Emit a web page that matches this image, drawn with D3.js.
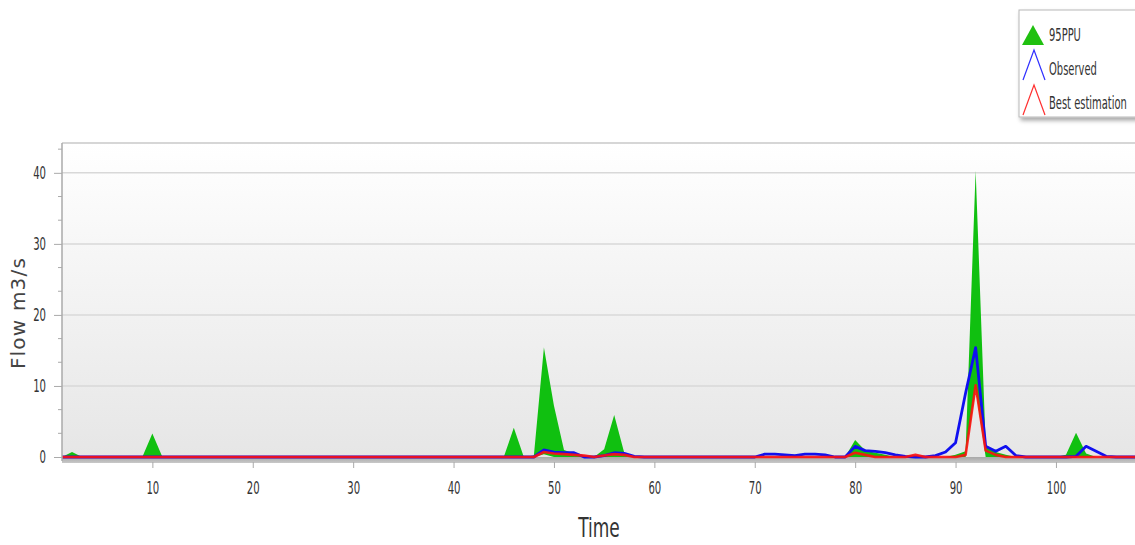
<!DOCTYPE html>
<html>
<head>
<meta charset="utf-8">
<script src="https://cdn.jsdelivr.net/npm/d3@7"></script>
<style>
  body { margin: 0; background: #fff; }
  svg { display: block; }
  .narrow { font-family: "Liberation Sans Narrow", "Arial Narrow", "DejaVu Sans Condensed", "Liberation Sans", sans-serif; }
</style>
</head>
<body>
<script>
// time steps 1..108
const time = d3.range(1, 109);

// sparse values, everything else is 0
const ppuUpperPts = {2: 0.7, 10: 3.3, 46: 4.1, 48: 0.2, 49: 15.4, 50: 7.2, 51: 1.0, 52: 0.5,
  55: 1.1, 56: 5.9, 57: 0.6, 80: 2.4, 81: 0.9, 82: 0.6, 83: 0.3, 90: 0.3, 91: 0.8, 92: 40.3,
  93: 1.7, 94: 0.7, 95: 0.3, 101: 0.3, 102: 3.4, 103: 0.5};
const ppuLowerPts = {49: 0.4, 92: 9.6};
const observedPts = {49: 1.0, 50: 0.7, 51: 0.6, 52: 0.6, 55: 0.2, 56: 0.6, 57: 0.5, 58: 0.1,
  71: 0.4, 72: 0.4, 73: 0.3, 74: 0.2, 75: 0.4, 76: 0.4, 77: 0.3,
  80: 1.5, 81: 0.9, 82: 0.8, 83: 0.6, 84: 0.3, 85: 0.1,
  88: 0.2, 89: 0.7, 90: 2.0, 91: 9.0, 92: 15.4, 93: 1.5, 94: 0.8, 95: 1.5, 96: 0.2,
  102: 0.1, 103: 1.5, 104: 0.8, 105: 0.1};
const bestPts = {49: 0.7, 50: 0.5, 51: 0.4, 52: 0.3, 53: 0.2, 55: 0.2, 56: 0.4, 57: 0.3,
  80: 0.6, 81: 0.3, 86: 0.3, 91: 0.3, 92: 10.1, 93: 0.9, 94: 0.3};

const ppuUpper = time.map(t => ppuUpperPts[t] || 0);
const ppuLower = time.map(t => ppuLowerPts[t] || 0);
const observed = time.map(t => observedPts[t] || 0);
const best = time.map(t => bestPts[t] || 0);

const yTicks = [0, 10, 20, 30, 40];
const xTicks = [10, 20, 30, 40, 50, 60, 70, 80, 90, 100];
const legendNames = ['95PPU', 'Observed', 'Best estimation'];

const W = 1135, H = 545;
const margin = {top: 143, left: 62, bottom: 88};

const svg = d3.select('body').append('svg').attr('width', W).attr('height', H);

const xscale = d3.scaleLinear().domain([1, 108]).range([margin.left, margin.left + 107 * 10.04]);
const yscale = d3.scaleLinear().domain([0, 44.2]).range([457, margin.top]);

// squeeze text horizontally (condensed look)
const squeeze = (sel, k) => sel.each(function() {
  const w = this.getComputedTextLength();
  d3.select(this).attr('textLength', w * k).attr('lengthAdjust', 'spacingAndGlyphs');
});

// plot background gradient
const defs = svg.append('defs');
const grad = defs.append('linearGradient').attr('id', 'bg').attr('x1', 0).attr('x2', 0).attr('y1', 0).attr('y2', 1);
grad.append('stop').attr('offset', '0%').attr('stop-color', '#ffffff');
grad.append('stop').attr('offset', '100%').attr('stop-color', '#e6e6e6');
const floor = defs.append('linearGradient').attr('id', 'floor').attr('x1', 0).attr('x2', 0).attr('y1', 0).attr('y2', 1);
floor.append('stop').attr('offset', '0%').attr('stop-color', '#a8a8a8');
floor.append('stop').attr('offset', '100%').attr('stop-color', '#c8c8c8');
const shadow = defs.append('filter').attr('id', 'shadow').attr('x', -0.1).attr('y', -0.1).attr('width', 1.3).attr('height', 1.3);
shadow.append('feDropShadow').attr('dx', 2).attr('dy', 3).attr('stdDeviation', 2).attr('flood-color', '#000').attr('flood-opacity', 0.35);

svg.append('rect')
  .attr('x', margin.left).attr('y', margin.top)
  .attr('width', W - margin.left + 5).attr('height', 457 - margin.top)
  .attr('fill', 'url(#bg)');

// gridlines
svg.append('g').selectAll('line').data(yTicks.filter(d => d > 0)).join('line')
  .attr('x1', margin.left).attr('x2', W)
  .attr('y1', d => yscale(d)).attr('y2', d => yscale(d))
  .attr('stroke', '#d8d8d8').attr('stroke-width', 1.5);

// top border
svg.append('line').attr('x1', margin.left).attr('x2', W)
  .attr('y1', margin.top).attr('y2', margin.top)
  .attr('stroke', '#c8c8c8').attr('stroke-width', 1.5);

// floor band
svg.append('rect').attr('x', margin.left).attr('y', 457).attr('width', W - margin.left).attr('height', 6)
  .attr('fill', 'url(#floor)');

// 95PPU band
const area = d3.area()
  .x((d, i) => xscale(time[i]))
  .y0((d, i) => yscale(ppuLower[i]))
  .y1(d => yscale(d));
svg.append('path').datum(ppuUpper).attr('d', area).attr('fill', '#10c010');

const line = d3.line().x((d, i) => xscale(time[i])).y(d => yscale(d));
svg.append('path').datum(observed).attr('d', line)
  .attr('fill', 'none').attr('stroke', '#1010f0').attr('stroke-width', 2.8).attr('stroke-linejoin', 'round');
svg.append('path').datum(best).attr('d', line)
  .attr('fill', 'none').attr('stroke', '#ff1010').attr('stroke-width', 2.6).attr('stroke-opacity', 0.9)
  .attr('stroke-linejoin', 'round');

// left axis
const yaxis = d3.axisLeft(yscale).tickValues(yTicks).tickSize(8).tickPadding(8);
const gy = svg.append('g').attr('transform', `translate(${margin.left},0)`).call(yaxis);
gy.select('.domain').remove();
svg.append('line').attr('x1', margin.left).attr('x2', margin.left).attr('y1', margin.top).attr('y2', 461)
  .attr('stroke', '#aaa').attr('stroke-width', 1.5);
// minor ticks
const minor = d3.range(0, 44.2, 10 / 3).filter(v => Math.abs(v - Math.round(v / 10) * 10) > 0.1);
svg.append('g').selectAll('line').data(minor).join('line')
  .attr('x1', margin.left - 4).attr('x2', margin.left)
  .attr('y1', d => yscale(d)).attr('y2', d => yscale(d))
  .attr('stroke', '#aaa');
gy.selectAll('.tick line').attr('stroke', '#aaa').attr('x1', -8).attr('x2', 0);
gy.selectAll('.tick text').attr('class', 'narrow').attr('font-size', 17).attr('fill', '#333')
  .call(squeeze, 0.66);

// bottom axis
const xaxis = d3.axisBottom(xscale).tickValues(xTicks).tickSize(6).tickPadding(14);
const gx = svg.append('g').attr('transform', 'translate(0,462)').call(xaxis);
gx.select('.domain').remove();
gx.selectAll('.tick line').attr('stroke', '#aaa');
gx.selectAll('.tick text').attr('class', 'narrow').attr('font-size', 17).attr('fill', '#333')
  .call(squeeze, 0.66);

// axis titles
svg.append('text').attr('class', 'narrow').attr('x', 599).attr('y', 537)
  .attr('text-anchor', 'middle').attr('font-size', 27).attr('fill', '#333').text('Time')
  .call(squeeze, 0.7);
svg.append('text').attr('transform', 'translate(25,313) rotate(-90)')
  .attr('text-anchor', 'middle').attr('font-family', 'Verdana, "DejaVu Sans", sans-serif')
  .attr('font-size', 20).attr('letter-spacing', 1.2).attr('fill', '#444').text('Flow m3/s');

// legend
const lg = svg.append('g');
lg.append('rect').attr('x', 1019).attr('y', 10).attr('width', 130).attr('height', 107)
  .attr('fill', '#fff').attr('stroke', '#b8b8b8').attr('filter', 'url(#shadow)');
lg.append('path').attr('d', 'M1022,45 L1033,25 L1044,45 Z').attr('fill', '#20c010');
lg.append('path').attr('d', 'M1023,80 L1034,50 L1045,80').attr('fill', 'none').attr('stroke', '#3030ff').attr('stroke-width', 1.2);
lg.append('path').attr('d', 'M1023,115 L1034,85 L1045,115').attr('fill', 'none').attr('stroke', '#ff3030').attr('stroke-width', 1.2);
lg.selectAll('text.lbl').data(legendNames).join('text')
  .attr('class', 'narrow lbl')
  .attr('transform', (d, i) => `translate(1049,${41 + i * 34}) scale(0.65,1)`)
  .attr('font-size', 17).attr('fill', '#333').text(d => d);
</script>
</body>
</html>
